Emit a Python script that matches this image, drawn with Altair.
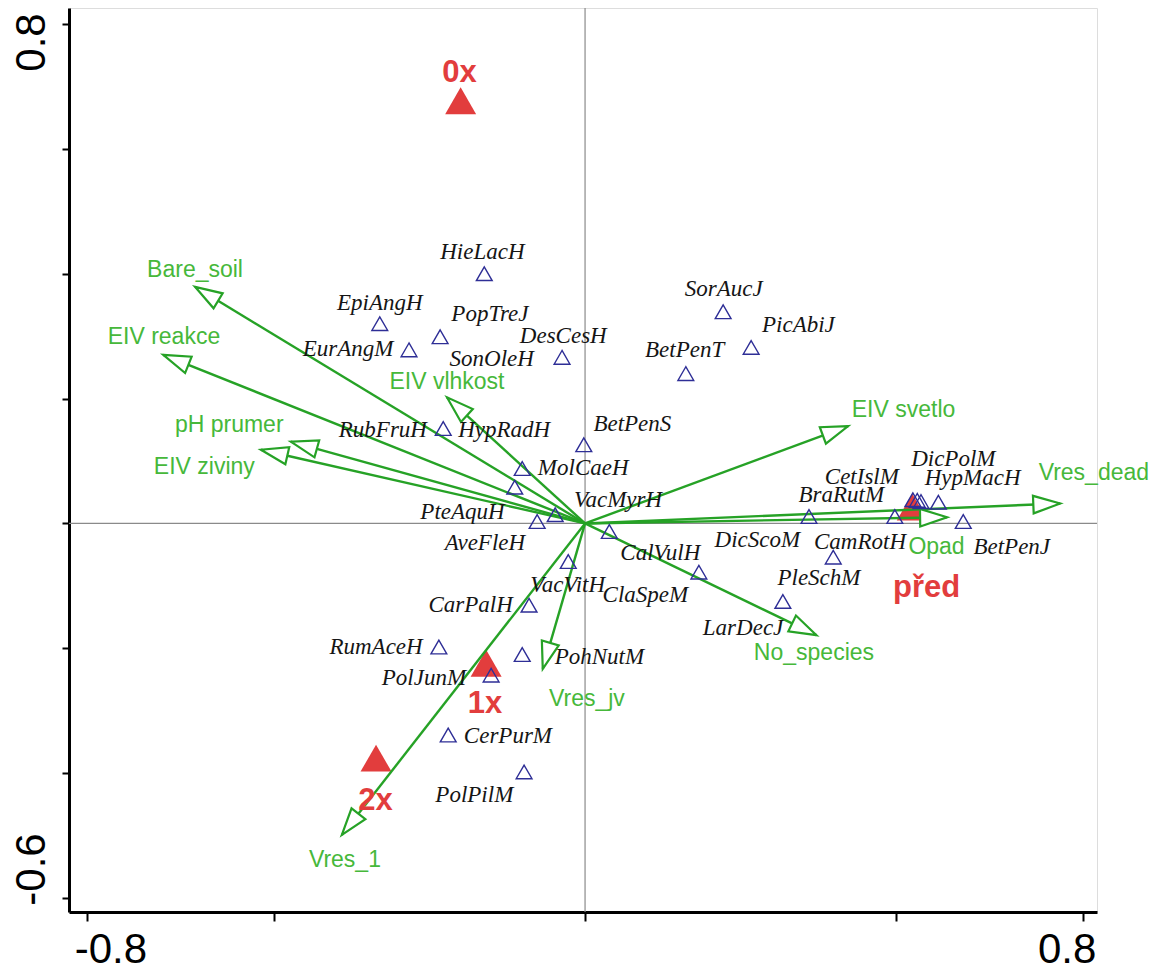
import altair as alt
import numpy as np
import pandas as pd

# ---------------- data ----------------
# species (open triangles)
sp_x = [-0.162, -0.330, -0.233, -0.283, -0.037, -0.228, -0.002, -0.101, -0.113, -0.048, -0.077,
        0.222, 0.267, 0.162,
        0.360, 0.498, 0.527, 0.534, 0.540, 0.568, 0.608, 0.399, 0.318, 0.183,
        0.039, -0.027, -0.090, -0.235, -0.101, -0.151, -0.220, -0.098]
sp_y = [0.400, 0.320, 0.299, 0.278, 0.266, 0.152, 0.126, 0.088, 0.058, 0.014, 0.003,
        0.339, 0.282, 0.240,
        0.011, 0.011, 0.038, 0.037, 0.035, 0.034, 0.003, -0.054, -0.125, -0.078,
        -0.013, -0.061, -0.131, -0.198, -0.210, -0.243, -0.339, -0.398]

# species labels
lab_names = ["HieLacH", "EpiAngH", "PopTreJ", "EurAngM", "SonOleH", "DesCesH", "SorAucJ", "PicAbiJ",
             "BetPenT", "RubFruH", "HypRadH", "BetPenS", "MolCaeH", "VacMyrH", "PteAquH", "AveFleH",
             "CalVulH", "VacVitH", "ClaSpeM", "CarPalH", "RumAceH", "PohNutM", "PolJunM", "CerPurM",
             "PolPilM", "LarDecJ", "PleSchM", "DicScoM", "CamRotH", "BetPenJ", "BraRutM", "CetIslM",
             "DicPolM", "HypMacH"]
lab_x = [-0.165, -0.330, -0.153, -0.381, -0.150, -0.035, 0.223, 0.343,
         0.160, -0.325, -0.130, 0.076, -0.003, 0.053, -0.197, -0.161,
         0.121, -0.028, 0.097, -0.184, -0.336, 0.023, -0.259, -0.124,
         -0.178, 0.254, 0.376, 0.277, 0.442, 0.686, 0.412, 0.445,
         0.592, 0.623]
lab_y = [0.434, 0.353, 0.336, 0.280, 0.264, 0.301, 0.376, 0.318,
         0.277, 0.150, 0.150, 0.160, 0.088, 0.037, 0.018, -0.032,
         -0.048, -0.099, -0.115, -0.131, -0.198, -0.214, -0.248, -0.341,
         -0.435, -0.168, -0.088, -0.026, -0.030, -0.037, 0.046, 0.074,
         0.104, 0.072]

# environmental variables (arrows)
env_names = ["Bare_soil", "EIV reakce", "pH prumer", "EIV ziviny", "EIV vlhkost", "EIV svetlo",
             "Vres_dead", "Opad", "No_species", "Vres_jv", "Vres_1"]
env_x = [-0.627, -0.678, -0.473, -0.521, -0.222, 0.423, 0.764, 0.582, 0.372, -0.068, -0.391]
env_y = [0.379, 0.270, 0.131, 0.118, 0.202, 0.156, 0.032, 0.010, -0.179, -0.233, -0.499]
env_lab_x = [-0.627, -0.677, -0.572, -0.612, -0.222, 0.512, 0.818, 0.565, 0.368, 0.003, -0.386]
env_lab_y = [0.406, 0.298, 0.158, 0.091, 0.227, 0.181, 0.080, -0.037, -0.208, -0.282, -0.539]

# nominal sample groups (filled red triangles)
grp_names = ["0x", "1x", "2x", "před"]
grp_x = [-0.200, -0.159, -0.336, 0.526]
grp_y = [0.677, -0.224, -0.376, 0.026]
grp_lab_x = [-0.202, -0.161, -0.337, 0.549]
grp_lab_y = [0.722, -0.289, -0.444, -0.103]

# axis ticks
x_ticks = [-0.8, -0.5, 0.0, 0.5, 0.8]
x_tick_labels = {-0.8: "-0.8", 0.8: "0.8"}
y_ticks = [-0.6, -0.4, -0.2, 0.0, 0.2, 0.4, 0.6, 0.8]
y_tick_labels = {-0.6: "-0.6", 0.8: "0.8"}

# ---------------- styling ----------------
W, H = 1028, 904
XD = [-0.8296, 0.823]
YD = [-0.6224, 0.8256]
px_x = W / (XD[1] - XD[0])
px_y = H / (YD[1] - YD[0])

GREEN = "#26a226"
GREEN_TXT = "#46b83a"
RED = "#e23d3d"
BLUE = "#2e2e96"

xs = alt.Scale(domain=XD, nice=False, zero=False)
ys = alt.Scale(domain=YD, nice=False, zero=False)


def label_expr(d):
    parts = []
    for v, s in d.items():
        parts.append(f"abs(datum.value - ({v})) < 0.001 ? '{s}'")
    return " : ".join(parts) + " : ''"


x_axis = alt.Axis(values=x_ticks, labelExpr=label_expr(x_tick_labels), grid=False, title=None,
                  tickSize=9, tickWidth=2, tickColor="black", domainColor="black", domainWidth=3,
                  labelFont="Liberation Sans", labelFontSize=42, labelColor="black",
                  labelBaseline="alphabetic", labelAlign="center", labelPadding=41,
                  labelOffset={"condition": {"test": "datum.value < 0", "value": 23}, "value": -16},
                  labelFlush=False, labelOverlap=False, labelBound=False)
y_axis = alt.Axis(values=y_ticks, labelExpr=label_expr(y_tick_labels), grid=False, title=None,
                  tickSize=7, tickWidth=2, tickColor="black", domainColor="black", domainWidth=3,
                  labelFont="Liberation Sans", labelFontSize=42, labelColor="black",
                  labelAngle=270, labelBaseline="alphabetic", labelAlign="center", labelPadding=18,
                  labelOffset={"condition": {"test": "datum.value > 0", "value": 18}, "value": -29},
                  labelFlush=False, labelOverlap=False, labelBound=False)

# ---------------- frames ----------------
sp = pd.DataFrame({"x": sp_x, "y": sp_y})
labs = pd.DataFrame({"name": lab_names, "x": lab_x, "y": lab_y})
env = pd.DataFrame({"name": env_names, "x": env_x, "y": env_y,
                    "lx": env_lab_x, "ly": env_lab_y})
env["x0"] = 0.0
env["y0"] = 0.0
env["ang"] = (np.degrees(np.arctan2(-env["y"] * px_y, env["x"] * px_x))) % 360
grp = pd.DataFrame({"name": grp_names, "x": grp_x, "y": grp_y, "lx": grp_lab_x, "ly": grp_lab_y})
zero = pd.DataFrame({"v": [0.0]})

# zero lines
vline = alt.Chart(zero).mark_rule(color="#8a8a8a", strokeWidth=1.2).encode(
    x=alt.X("v:Q", scale=xs, axis=x_axis))
hline = alt.Chart(zero).mark_rule(color="#8a8a8a", strokeWidth=1.2).encode(
    y=alt.Y("v:Q", scale=ys, axis=y_axis))

# red group triangles
grp_pts = alt.Chart(grp).mark_point(shape="triangle-up", size=960, filled=True, color=RED,
                                    opacity=1).encode(
    x=alt.X("x:Q", scale=xs, axis=x_axis), y=alt.Y("y:Q", scale=ys, axis=y_axis))

# arrows
arrow_lines = alt.Chart(env).mark_rule(color=GREEN, strokeWidth=2.4).encode(
    x=alt.X("x0:Q", scale=xs, axis=x_axis), y=alt.Y("y0:Q", scale=ys, axis=y_axis),
    x2="x:Q", y2="y:Q")
arrow_heads = alt.Chart(env).mark_point(shape="M0,0L-2,-0.65L-2,0.65Z", size=729, filled=True,
                                        fill="white", stroke=GREEN, strokeWidth=2.2,
                                        opacity=1, fillOpacity=1, strokeOpacity=1).encode(
    x=alt.X("x:Q", scale=xs, axis=x_axis), y=alt.Y("y:Q", scale=ys, axis=y_axis),
    angle=alt.Angle("ang:Q", scale=None))

# species triangles
sp_pts = alt.Chart(sp).mark_point(shape="triangle-up", size=250, filled=False, color=BLUE,
                                  strokeWidth=1.4, opacity=1).encode(
    x=alt.X("x:Q", scale=xs, axis=x_axis), y=alt.Y("y:Q", scale=ys, axis=y_axis))

sp_text = alt.Chart(labs).mark_text(font="Liberation Serif", fontStyle="italic", fontSize=23,
                                    color="#151515", align="center", baseline="middle").encode(
    x=alt.X("x:Q", scale=xs, axis=x_axis), y=alt.Y("y:Q", scale=ys, axis=y_axis), text="name:N")

env_text = alt.Chart(env).mark_text(font="Liberation Sans", fontSize=23, color=GREEN_TXT,
                                    align="center", baseline="middle").encode(
    x=alt.X("lx:Q", scale=xs, axis=x_axis), y=alt.Y("ly:Q", scale=ys, axis=y_axis), text="name:N")

grp_text = alt.Chart(grp).mark_text(font="Liberation Sans", fontSize=31, fontWeight="bold",
                                    color=RED, align="center", baseline="middle").encode(
    x=alt.X("lx:Q", scale=xs, axis=x_axis), y=alt.Y("ly:Q", scale=ys, axis=y_axis), text="name:N")

chart = alt.layer(vline, hline, grp_pts, arrow_lines, arrow_heads, sp_pts, sp_text, env_text,
                  grp_text).properties(
    width=W, height=H,
    autosize=alt.AutoSizeParams(type="none"),
    padding={"left": 61, "top": 0, "right": 60, "bottom": 53},
).configure_view(stroke="black", strokeWidth=3).configure(background="white")

chart.save("out.html", embed_options={"renderer": "svg", "actions": False})
